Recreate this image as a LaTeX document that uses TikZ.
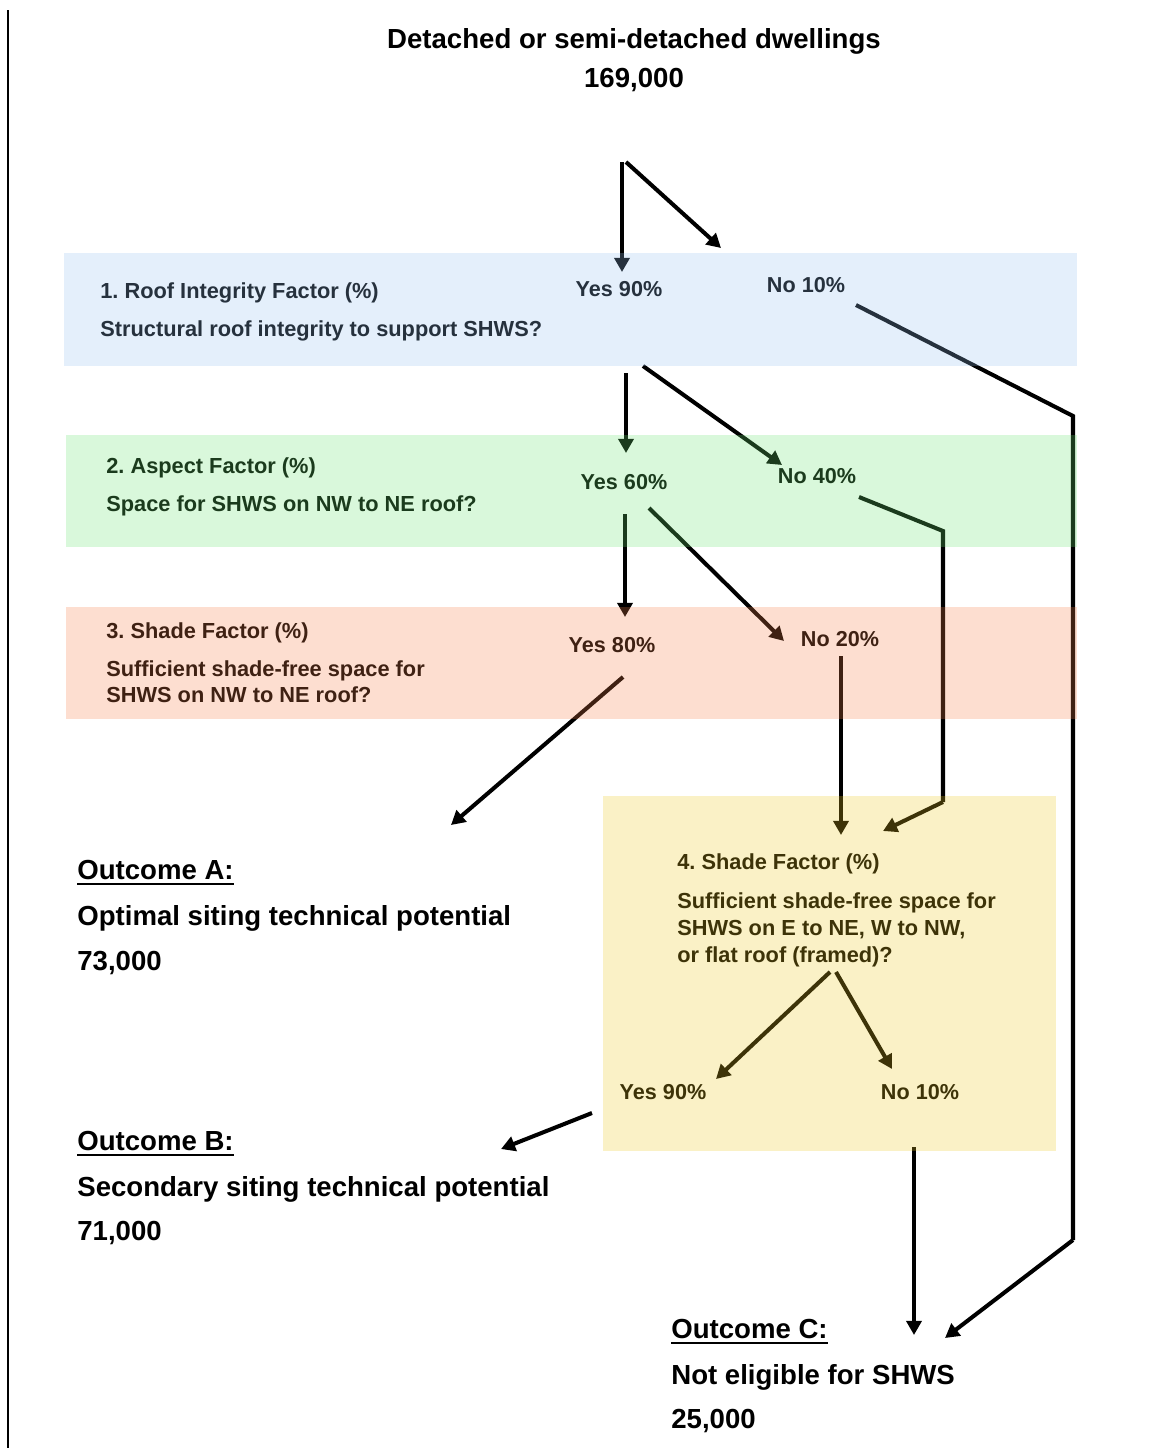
\documentclass[tikz,border=0pt]{standalone}
\usepackage{fontspec}
\setmainfont{Liberation Sans}
\usetikzlibrary{arrows.meta}
\frenchspacing

% overlay colours (drawn translucent over the flow)
\definecolor{roofblue}{RGB}{149,192,239}
\definecolor{aspectgreen}{RGB}{107,229,114}
\definecolor{shadepeach}{RGB}{246,129,75}
\definecolor{shadeyellow}{RGB}{237,200,33}

\begin{document}
\begin{tikzpicture}[x=0.02cm, y=-0.02cm,
    every node/.style={inner sep=0pt},
    big/.style={font=\fontsize{15.7}{19}\selectfont\bfseries},
    txt/.style={font=\fontsize{12.4}{15}\selectfont\bfseries},
    ans/.style={font=\fontsize{12.3}{15}\selectfont\bfseries},
    arr/.style={line width=2.3pt, -{Triangle[length=8pt,width=8.5pt]}},
    seg/.style={line width=2.3pt},
    band/.style={fill opacity=0.26}]
  \useasboundingbox (0,0) rectangle (1161,1448);
  \draw[line width=1pt] (8,10) -- (8,1448);

  % top
  \node (title) at (634,48) [big, anchor=base] {Detached or semi-detached dwellings};
  \node (total) at (634,87) [big, anchor=base] {169,000};

  % factor texts
  \node (q1head) at (100,298) [txt, anchor=base west] {1. Roof Integrity Factor (\%)};
  \node (q1text) at (100,336) [txt, anchor=base west] {Structural roof integrity to support SHWS?};
  \node (yes1) at (619,296) [ans, anchor=base] {Yes 90\%};
  \node (no1) at (806,292) [ans, anchor=base] {No 10\%};

  \node (q2head) at (106,473) [txt, anchor=base west] {2. Aspect Factor (\%)};
  \node (q2text) at (106,511) [txt, anchor=base west] {Space for SHWS on NW to NE roof?};
  \node (yes2) at (624,489) [ans, anchor=base] {Yes 60\%};
  \node (no2) at (817,483) [ans, anchor=base] {No 40\%};

  \node (q3head) at (106,638) [txt, anchor=base west] {3. Shade Factor (\%)};
  \node (q3textA) at (106,676) [txt, anchor=base west] {Sufficient shade-free space for};
  \node (q3textB) at (106,702) [txt, anchor=base west] {SHWS on NW to NE roof?};
  \node (yes3) at (612,652) [ans, anchor=base] {Yes 80\%};
  \node (no3) at (840,646) [ans, anchor=base] {No 20\%};

  \node (q4head) at (677,869) [txt, anchor=base west] {4. Shade Factor (\%)};
  \node (q4textA) at (677,908) [txt, anchor=base west] {Sufficient shade-free space for};
  \node (q4textB) at (677,935) [txt, anchor=base west] {SHWS on E to NE, W to NW,};
  \node (q4textC) at (677,962) [txt, anchor=base west] {or flat roof (framed)?};
  \node (yes4) at (663,1099) [ans, anchor=base] {Yes 90\%};
  \node (no4) at (920,1099) [ans, anchor=base] {No 10\%};

  % outcomes
  \node (outA) at (77,879) [big, anchor=base west] {Outcome A:};
  \node (outAtext) at (77,925) [big, anchor=base west] {Optimal siting technical potential};
  \node (outAnum) at (77,970) [big, anchor=base west] {73,000};
  \node (outB) at (77,1150) [big, anchor=base west] {Outcome B:};
  \node (outBtext) at (77,1196) [big, anchor=base west] {Secondary siting technical potential};
  \node (outBnum) at (77,1240) [big, anchor=base west] {71,000};
  \node (outC) at (671,1338) [big, anchor=base west] {Outcome C:};
  \node (outCtext) at (671,1384) [big, anchor=base west] {Not eligible for SHWS};
  \node (outCnum) at (671,1428) [big, anchor=base west] {25,000};
  \foreach \o in {outA, outB, outC}
    \draw[line width=1.4pt] ([yshift=-2.8pt]\o.base west) -- ([yshift=-2.8pt]\o.base east);

  % arrow ends
  \coordinate (t1) at (622,162);  \coordinate (t2) at (622,272);
  \coordinate (t3) at (626,162);  \coordinate (t4) at (721,248);
  \coordinate (r1) at (626,373);  \coordinate (r2) at (626,453);
  \coordinate (r3) at (643,366);  \coordinate (r4) at (782,465);
  \coordinate (a1) at (625,514);  \coordinate (a2) at (625,617);
  \coordinate (a3) at (649,508);  \coordinate (a4) at (784,641);
  \coordinate (s1) at (623,677);  \coordinate (s2) at (451,825);
  \coordinate (s3) at (841,656);  \coordinate (s4) at (841,835);
  \coordinate (f1) at (830,972);  \coordinate (f2) at (716,1079);
  \coordinate (f3) at (836,972);  \coordinate (f4) at (892,1069);
  \coordinate (f5) at (592,1113); \coordinate (f6) at (501,1149);
  \coordinate (f7) at (914,1147); \coordinate (f8) at (914,1335);
  % bends
  \coordinate (n1) at (856,305);  \coordinate (n2) at (1073,416);
  \coordinate (n3) at (1073,1240); \coordinate (n4) at (945,1338);
  \coordinate (m1) at (859,497);  \coordinate (m2) at (943,531);
  \coordinate (m3) at (943,802);  \coordinate (m4) at (883,831);

  \foreach \source/\dest in {t1/t2, t3/t4, r1/r2, r3/r4, a1/a2, a3/a4, s1/s2, s3/s4, f1/f2, f3/f4, f5/f6, f7/f8}
    \draw[arr] (\source) -- (\dest);
  \draw[seg, line join=miter] (n1) -- (n2) -- (n3);
  \draw[arr] (n3) -- (n4);
  \draw[seg, line join=miter] (m1) -- (m2) -- (m3);
  \draw[arr] (m3) -- (m4);

  % translucent factor bands
  \fill[roofblue, band] (64,253) rectangle (1077,366);
  \fill[aspectgreen, band] (66,435) rectangle (1077,547);
  \fill[shadepeach, band] (66,607) rectangle (1077,719);
  \fill[shadeyellow, band] (603,796) rectangle (1056,1151);
\end{tikzpicture}
\end{document}
